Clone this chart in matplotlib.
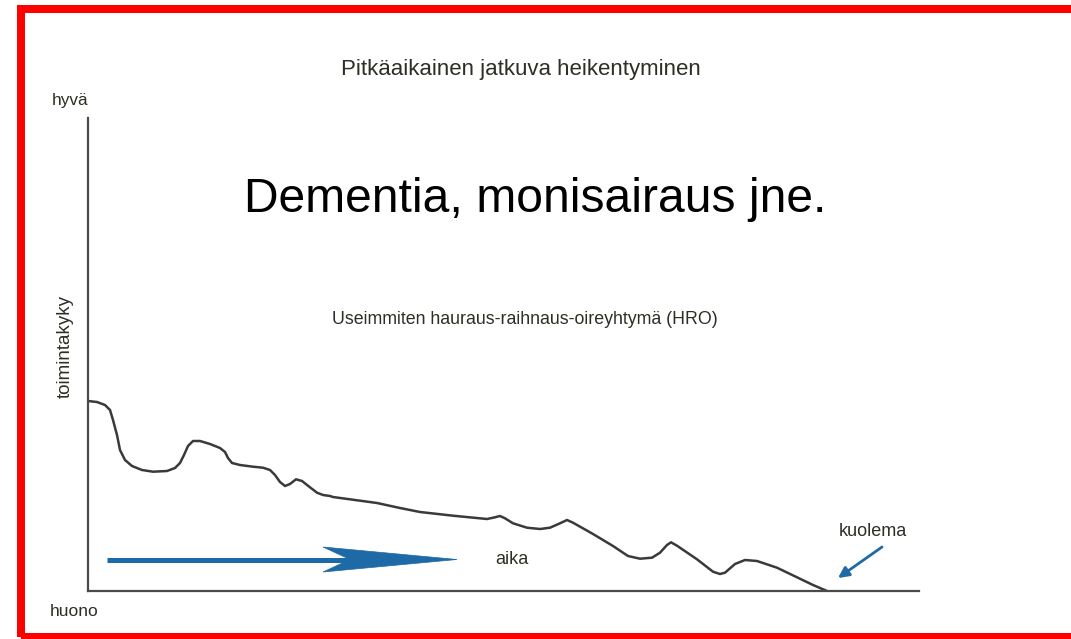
import matplotlib
matplotlib.use("Agg")
import matplotlib.pyplot as plt
from matplotlib.patches import Rectangle, Polygon

plt.rcParams['font.family'] = ['Liberation Sans', 'DejaVu Sans']

# ---- data (time 0..831, functional ability 0..473) ----
time = [0, 9, 17, 22, 25, 29, 32, 37, 44, 54, 65, 79, 87, 92, 96, 100, 105, 112,
        122, 132, 137, 140, 144, 152, 165, 175, 182, 187, 192, 197, 202, 208, 214,
        222, 229, 235, 242, 245, 289, 312, 332, 365, 399, 407, 412, 417, 425, 439,
        452, 462, 472, 479, 485, 505, 525, 540, 552, 564, 572, 579, 583, 589, 609,
        625, 632, 637, 647, 657, 669, 689, 709, 725, 739]
ability = [190, 189, 186, 181, 171, 156, 141, 131, 125, 121, 119.3, 120, 123, 128,
           136, 145, 150, 150, 147, 143, 139, 133, 128, 126, 124.3, 123.3, 121, 116,
           109, 105, 107, 111.7, 110, 103.7, 98.3, 96, 95, 94, 88, 83, 79, 75.3, 72,
           73.7, 75, 72.7, 67.7, 63.3, 62, 63.3, 67.7, 71, 68.3, 57, 45, 35, 32.3,
           33.3, 38.3, 46, 48.7, 45.3, 31.7, 19.3, 17, 18.3, 27, 31, 30, 23.3, 13.7,
           6, 0]

title = "Pitkäaikainen jatkuva heikentyminen"
big_text = "Dementia, monisairaus jne."
sub_text = "Useimmiten hauraus-raihnaus-oireyhtymä (HRO)"
y_top_label = "hyvä"
y_bottom_label = "huono"
y_label = "toimintakyky"
x_label = "aika"
end_label = "kuolema"

W, H = 1071, 639
fig = plt.figure(figsize=(W / 100, H / 100), dpi=100)
fig.patch.set_facecolor('white')

def fx(px):
    return px / W

def fy(py):
    return (H - py) / H

ax = fig.add_axes([fx(88), fy(591), (919 - 88) / W, (591 - 118) / H])
ax.set_xlim(0, 831)
ax.set_ylim(0, 473)
ax.set_facecolor('white')
for s in ['top', 'right']:
    ax.spines[s].set_visible(False)
for s in ['left', 'bottom']:
    ax.spines[s].set_color('#4a4a4a')
    ax.spines[s].set_linewidth(1.6)
ax.set_xticks([])
ax.set_yticks([])

txt_color = '#2e2e26'
blue = '#1e6aa6'

# curve
ax.plot(time, ability, color='#3a3a3a', lw=1.8, solid_joinstyle='round',
        solid_capstyle='round')

# big blue time arrow
ax.plot([19, 265], [31.5, 31.5], color=blue, lw=3.6, solid_capstyle='butt')
head = Polygon([[235, 44], [369, 31.5], [235, 19], [262, 31.5]],
               closed=True, facecolor=blue, edgecolor=blue, lw=0.5)
ax.add_patch(head)

# kuolema arrow
ax.annotate('', xy=(750, 13), xytext=(794, 44),
            arrowprops=dict(arrowstyle='-|>', color=blue, lw=2.0,
                            mutation_scale=16, shrinkA=0, shrinkB=0))

# texts in figure coords
fig.text(fx(521), fy(70), title, ha='center', va='center', fontsize=16, color=txt_color)
fig.text(fx(52), fy(100), y_top_label, ha='left', va='center', fontsize=12.4, color=txt_color)
fig.text(fx(50), fy(612), y_bottom_label, ha='left', va='center', fontsize=12.5, color=txt_color)
fig.text(fx(65), fy(347), y_label, ha='center', va='center', rotation=90, fontsize=13.5, color=txt_color)
fig.text(fx(535), fy(200), big_text, ha='center', va='center', fontsize=34.6, color='black')
fig.text(fx(525), fy(320), sub_text, ha='center', va='center', fontsize=12.8, color=txt_color)
fig.text(fx(512), fy(560), x_label, ha='center', va='center', fontsize=13, color=txt_color)
fig.text(fx(873), fy(532), end_label, ha='center', va='center', fontsize=13, color=txt_color)

# red frame
fig.patches.append(Rectangle((fx(21), fy(637)), fx(1073) - fx(21), fy(9) - fy(637),
                             transform=fig.transFigure, fill=False,
                             edgecolor='#ff0000', lw=8 * 72 / 100, zorder=10))

fig.savefig('out.png', dpi=100)
